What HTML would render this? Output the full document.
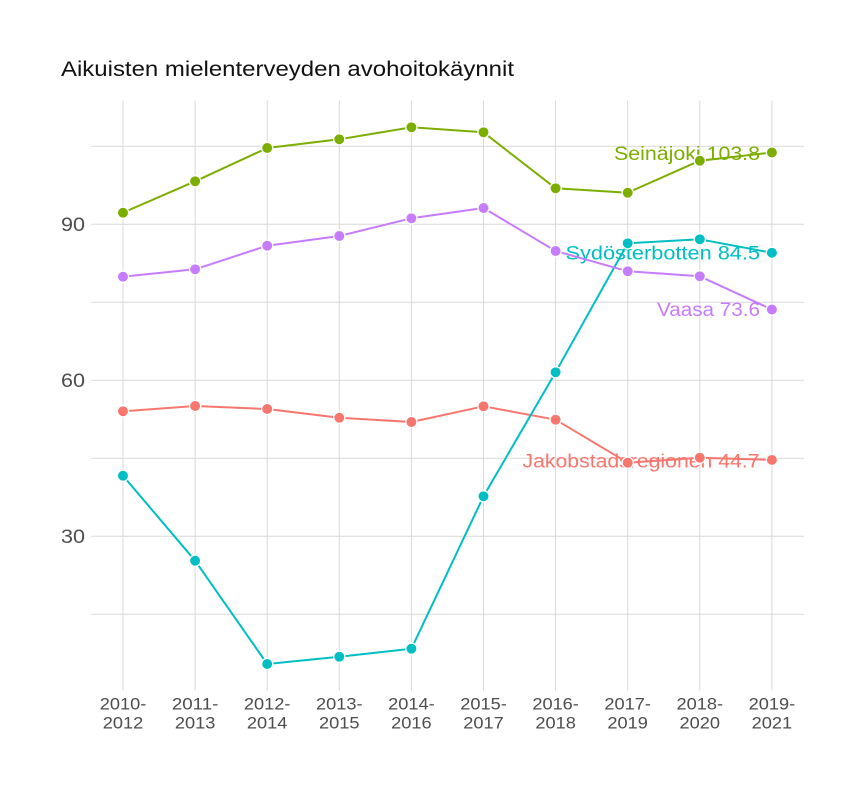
<!DOCTYPE html>
<html>
<head>
<meta charset="utf-8">
<style>
html,body{margin:0;padding:0;background:#fff;}
svg{display:block;}
text{font-family:"Liberation Sans",sans-serif;}
</style>
</head>
<body>
<svg width="864" height="792" viewBox="0 0 864 792" xmlns="http://www.w3.org/2000/svg">
<rect width="864" height="792" fill="#fff"/>
<g stroke="#d9d9d9" stroke-width="1">
<line x1="91" y1="146.3" x2="804" y2="146.3"/>
<line x1="91" y1="224.3" x2="804" y2="224.3"/>
<line x1="91" y1="302.3" x2="804" y2="302.3"/>
<line x1="91" y1="380.3" x2="804" y2="380.3"/>
<line x1="91" y1="458.3" x2="804" y2="458.3"/>
<line x1="91" y1="536.3" x2="804" y2="536.3"/>
<line x1="91" y1="614.3" x2="804" y2="614.3"/>
<line x1="123" y1="100.5" x2="123" y2="690.5"/>
<line x1="195.1" y1="100.5" x2="195.1" y2="690.5"/>
<line x1="267.2" y1="100.5" x2="267.2" y2="690.5"/>
<line x1="339.3" y1="100.5" x2="339.3" y2="690.5"/>
<line x1="411.4" y1="100.5" x2="411.4" y2="690.5"/>
<line x1="483.5" y1="100.5" x2="483.5" y2="690.5"/>
<line x1="555.6" y1="100.5" x2="555.6" y2="690.5"/>
<line x1="627.7" y1="100.5" x2="627.7" y2="690.5"/>
<line x1="699.8" y1="100.5" x2="699.8" y2="690.5"/>
<line x1="771.9" y1="100.5" x2="771.9" y2="690.5"/>
</g>

<text x="61" y="76" font-size="21" fill="#111" textLength="453" lengthAdjust="spacingAndGlyphs">Aikuisten mielenterveyden avohoitokäynnit</text>

<g font-size="19" fill="#4d4d4d" text-anchor="end">
<text x="85" y="231" textLength="24" lengthAdjust="spacingAndGlyphs">90</text>
<text x="85" y="387" textLength="24" lengthAdjust="spacingAndGlyphs">60</text>
<text x="85" y="543" textLength="24" lengthAdjust="spacingAndGlyphs">30</text>
</g>

<g font-size="16.5" fill="#4d4d4d" text-anchor="middle">
<text x="123" y="709.3" textLength="46.5" lengthAdjust="spacingAndGlyphs">2010-</text>
<text x="123" y="728.7" textLength="40.5" lengthAdjust="spacingAndGlyphs">2012</text>
<text x="195.1" y="709.3" textLength="46.5" lengthAdjust="spacingAndGlyphs">2011-</text>
<text x="195.1" y="728.7" textLength="40.5" lengthAdjust="spacingAndGlyphs">2013</text>
<text x="267.2" y="709.3" textLength="46.5" lengthAdjust="spacingAndGlyphs">2012-</text>
<text x="267.2" y="728.7" textLength="40.5" lengthAdjust="spacingAndGlyphs">2014</text>
<text x="339.3" y="709.3" textLength="46.5" lengthAdjust="spacingAndGlyphs">2013-</text>
<text x="339.3" y="728.7" textLength="40.5" lengthAdjust="spacingAndGlyphs">2015</text>
<text x="411.4" y="709.3" textLength="46.5" lengthAdjust="spacingAndGlyphs">2014-</text>
<text x="411.4" y="728.7" textLength="40.5" lengthAdjust="spacingAndGlyphs">2016</text>
<text x="483.5" y="709.3" textLength="46.5" lengthAdjust="spacingAndGlyphs">2015-</text>
<text x="483.5" y="728.7" textLength="40.5" lengthAdjust="spacingAndGlyphs">2017</text>
<text x="555.6" y="709.3" textLength="46.5" lengthAdjust="spacingAndGlyphs">2016-</text>
<text x="555.6" y="728.7" textLength="40.5" lengthAdjust="spacingAndGlyphs">2018</text>
<text x="627.7" y="709.3" textLength="46.5" lengthAdjust="spacingAndGlyphs">2017-</text>
<text x="627.7" y="728.7" textLength="40.5" lengthAdjust="spacingAndGlyphs">2019</text>
<text x="699.8" y="709.3" textLength="46.5" lengthAdjust="spacingAndGlyphs">2018-</text>
<text x="699.8" y="728.7" textLength="40.5" lengthAdjust="spacingAndGlyphs">2020</text>
<text x="771.9" y="709.3" textLength="46.5" lengthAdjust="spacingAndGlyphs">2019-</text>
<text x="771.9" y="728.7" textLength="40.5" lengthAdjust="spacingAndGlyphs">2021</text>
</g>

<!-- series labels -->
<g font-size="19" text-anchor="end">
<text x="760" y="160" fill="#7CAE00" textLength="146" lengthAdjust="spacingAndGlyphs">Seinäjoki 103.8</text>
<text x="760" y="259.5" fill="#00BFC4" textLength="194.5" lengthAdjust="spacingAndGlyphs">Sydösterbotten 84.5</text>
<text x="760" y="316" fill="#C77CFF" textLength="103" lengthAdjust="spacingAndGlyphs">Vaasa 73.6</text>
<text x="759.5" y="467.5" fill="#F8766D" textLength="237" lengthAdjust="spacingAndGlyphs">Jakobstadsregionen 44.7</text>
</g>

<!-- lines -->
<g fill="none" stroke-width="2" stroke-linejoin="round">
<polyline stroke="#F8766D" points="123,411.3 195.1,406 267.2,409 339.3,417.7 411.4,422 483.5,406.3 555.6,419.7 627.7,462.7 699.8,457.7 771.9,459.9"/>
<polyline stroke="#00BFC4" points="123,475.7 195.1,560.7 267.2,664 339.3,656.7 411.4,648.7 483.5,496.3 555.6,372.3 627.7,243.3 699.8,239.3 771.9,252.8"/>
<polyline stroke="#C77CFF" points="123,276.7 195.1,269.3 267.2,245.7 339.3,236 411.4,218.3 483.5,208 555.6,251 627.7,271.3 699.8,276.3 771.9,309.5"/>
<polyline stroke="#7CAE00" points="123,212.7 195.1,181.3 267.2,148 339.3,139.3 411.4,127.3 483.5,132.3 555.6,188.3 627.7,192.7 699.8,160.7 771.9,152.5"/>
</g>

<!-- points -->
<g stroke="#fff" stroke-width="1.3">
<g fill="#F8766D">
<circle cx="123" cy="411.3" r="5.6"/><circle cx="195.1" cy="406" r="5.6"/><circle cx="267.2" cy="409" r="5.6"/><circle cx="339.3" cy="417.7" r="5.6"/><circle cx="411.4" cy="422" r="5.6"/><circle cx="483.5" cy="406.3" r="5.6"/><circle cx="555.6" cy="419.7" r="5.6"/><circle cx="627.7" cy="462.7" r="5.6"/><circle cx="699.8" cy="457.7" r="5.6"/><circle cx="771.9" cy="459.9" r="5.6"/>
</g>
<g fill="#00BFC4">
<circle cx="123" cy="475.7" r="5.6"/><circle cx="195.1" cy="560.7" r="5.6"/><circle cx="267.2" cy="664" r="5.6"/><circle cx="339.3" cy="656.7" r="5.6"/><circle cx="411.4" cy="648.7" r="5.6"/><circle cx="483.5" cy="496.3" r="5.6"/><circle cx="555.6" cy="372.3" r="5.6"/><circle cx="627.7" cy="243.3" r="5.6"/><circle cx="699.8" cy="239.3" r="5.6"/><circle cx="771.9" cy="252.8" r="5.6"/>
</g>
<g fill="#C77CFF">
<circle cx="123" cy="276.7" r="5.6"/><circle cx="195.1" cy="269.3" r="5.6"/><circle cx="267.2" cy="245.7" r="5.6"/><circle cx="339.3" cy="236" r="5.6"/><circle cx="411.4" cy="218.3" r="5.6"/><circle cx="483.5" cy="208" r="5.6"/><circle cx="555.6" cy="251" r="5.6"/><circle cx="627.7" cy="271.3" r="5.6"/><circle cx="699.8" cy="276.3" r="5.6"/><circle cx="771.9" cy="309.5" r="5.6"/>
</g>
<g fill="#7CAE00">
<circle cx="123" cy="212.7" r="5.6"/><circle cx="195.1" cy="181.3" r="5.6"/><circle cx="267.2" cy="148" r="5.6"/><circle cx="339.3" cy="139.3" r="5.6"/><circle cx="411.4" cy="127.3" r="5.6"/><circle cx="483.5" cy="132.3" r="5.6"/><circle cx="555.6" cy="188.3" r="5.6"/><circle cx="627.7" cy="192.7" r="5.6"/><circle cx="699.8" cy="160.7" r="5.6"/><circle cx="771.9" cy="152.5" r="5.6"/>
</g>
</g>
</svg>
</body>
</html>
